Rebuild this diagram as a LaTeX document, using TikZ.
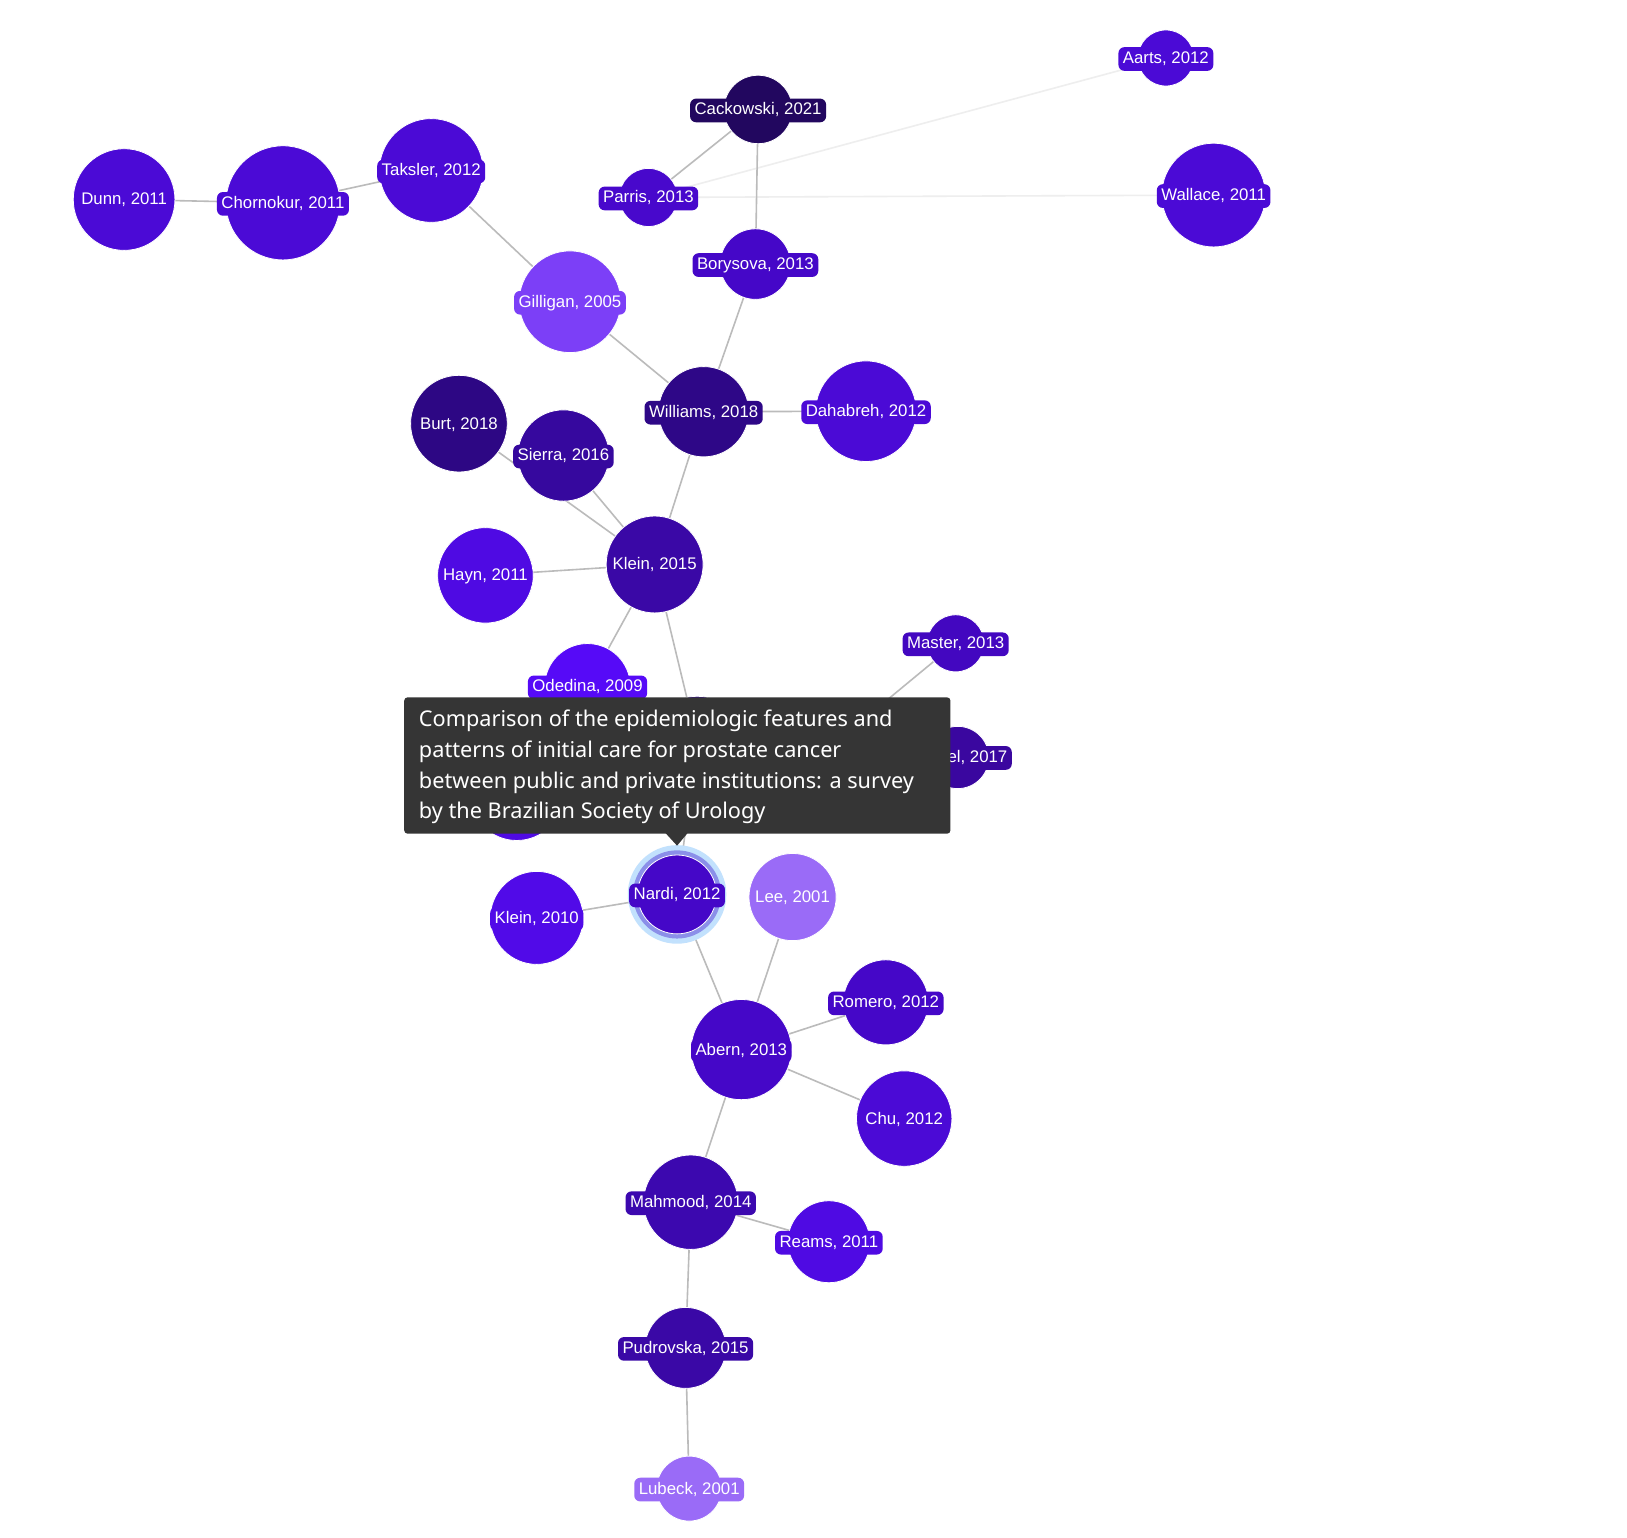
\documentclass[tikz,border=0pt]{standalone}
\usepackage{fontspec}
\setmainfont{Liberation Sans}
\newfontfamily\tipfont{Noto Sans}
\usetikzlibrary{backgrounds}
\pgfdeclarelayer{fg}
\pgfdeclarelayer{top}
\pgfsetlayers{background,main,fg,top}
\definecolor{cStd}{HTML}{4B0AD6}
\definecolor{cMid}{HTML}{4507C8}
\definecolor{cParris}{HTML}{4808CC}
\definecolor{cCack}{HTML}{22075F}
\definecolor{cGill}{HTML}{7C3FF7}
\definecolor{cWill}{HTML}{2E0787}
\definecolor{cBurt}{HTML}{2D0784}
\definecolor{cSierra}{HTML}{36089E}
\definecolor{cKlein}{HTML}{3A08A6}
\definecolor{cHayn}{HTML}{4F0AE3}
\definecolor{cOded}{HTML}{560AF7}
\definecolor{cMaster}{HTML}{4307C0}
\definecolor{cEl}{HTML}{3A079F}
\definecolor{cKleinB}{HTML}{510AE8}
\definecolor{cLee}{HTML}{9A6BF7}
\definecolor{cMahm}{HTML}{3C08AF}
\definecolor{ringOut}{HTML}{C2E1FD}
\definecolor{ringMid}{HTML}{8B8FE9}
\definecolor{edgegray}{HTML}{BBBBBB}
\definecolor{faintgray}{HTML}{EEEEEE}
\definecolor{tipbg}{HTML}{353535}
\tikzset{
  pcirc/.style={circle, draw=white, line width=0.8pt, inner sep=0pt, outer sep=0pt},
  plabel/.style={rounded corners=6pt, inner xsep=4.5pt, inner ysep=4pt, text=white, yshift=-1pt,
    font=\fontsize{16.8}{18}\selectfont, text height=12.3pt, text depth=3.4pt},
  edgeline/.style={draw=edgegray, line width=1.6pt},
  faintline/.style={draw=faintgray, line width=1.6pt},
  tiptext/.style={anchor=base west, inner sep=0pt, text=white, font=\tipfont\fontsize{21.7}{30}\selectfont}
}
\newcommand\pnode[6]{%
  \node[pcirc, fill=#5, minimum size={2.0752pt*#4}] (#1) at (#2,#3) {};
  \begin{pgfonlayer}{fg}\node[plabel, fill=#5] (#1-l) at (#1) {#6};\end{pgfonlayer}}
\begin{document}
\begin{tikzpicture}[x=1.0376pt, y=-1.0376pt]
\begin{pgfonlayer}{background}
\fill[white] (0,0) rectangle (1568,1482);
\end{pgfonlayer}
\useasboundingbox (0,0) rectangle (1568,1482);

\pnode{aarts}{1123.6}{55.9}{27}{cStd}{Aarts, 2012}
\pnode{cack}{730.6}{105.5}{33}{cCack}{Cackowski, 2021}
\pnode{parris}{624.9}{190.3}{28}{cParris}{Parris, 2013}
\pnode{wallace}{1169.6}{188}{50}{cStd}{Wallace, 2011}
\pnode{bory}{728}{254.5}{34}{cMid}{Borysova, 2013}
\pnode{dunn}{119.6}{192.3}{49}{cStd}{Dunn, 2011}
\pnode{chor}{272.7}{195.5}{55}{cStd}{Chornokur, 2011}
\pnode{taks}{415.6}{164.3}{50}{cStd}{Taksler, 2012}
\pnode{gill}{549.3}{290.8}{49}{cGill}{Gilligan, 2005}
\pnode{will}{678.1}{396.8}{43.5}{cWill}{Williams, 2018}
\pnode{daha}{834.6}{396.3}{48.5}{cStd}{Dahabreh, 2012}
\pnode{burt}{442.3}{408.3}{46.6}{cBurt}{Burt, 2018}
\pnode{sierra}{543}{439}{44}{cSierra}{Sierra, 2016}
\pnode{kleinA}{630.9}{544}{46.7}{cKlein}{Klein, 2015}
\pnode{hayn}{467.8}{554.5}{46}{cHayn}{Hayn, 2011}
\pnode{oded}{566.2}{661.5}{41.3}{cOded}{Odedina, 2009}
\pnode{master}{921}{620}{27.5}{cMaster}{Master, 2013}

\node[pcirc, fill=cKlein, minimum size={2.0752pt*43}] (hidA) at (672,714) {};
\node[pcirc, fill=cHayn, minimum size={2.0752pt*45}] (hidB) at (498,765) {};
\node[pcirc, fill=cEl, minimum size={2.0752pt*30}] (elnode) at (923,730) {};
\begin{pgfonlayer}{fg}
\node[plabel, fill=cEl, anchor=east] (el-l) at (975.3,729.5) {el, 2017};
\end{pgfonlayer}
\coordinate (m2) at (800,720);

\fill[ringOut] (652.5,862) circle (47.5);
\fill[ringMid] (652.5,862) circle (42.5);
\pnode{nardi}{652.5}{862}{38}{cMid}{Nardi, 2012}
\pnode{kleinB}{517.3}{884.6}{44.8}{cKleinB}{Klein, 2010}
\pnode{lee}{763.8}{864.5}{42}{cLee}{Lee, 2001}
\pnode{abern}{714.4}{1011.5}{48.3}{cMid}{Abern, 2013}
\pnode{romero}{853.7}{966}{41}{cMid}{Romero, 2012}
\pnode{chu}{871.4}{1078}{46}{cStd}{Chu, 2012}
\pnode{mahm}{665.7}{1158.6}{45.5}{cMahm}{Mahmood, 2014}
\pnode{reams}{798.8}{1196.7}{39.5}{cHayn}{Reams, 2011}
\pnode{pudr}{660.7}{1299}{39}{cKlein}{Pudrovska, 2015}
\pnode{lub}{664.2}{1434.6}{31.3}{cLee}{Lubeck, 2001}

\begin{pgfonlayer}{background}
\draw[faintline] (parris) -- (aarts);
\draw[faintline] (parris) -- (wallace);
\draw[edgeline] (dunn) -- (chor);
\draw[edgeline] (chor) -- (taks);
\draw[edgeline] (taks) -- (gill);
\draw[edgeline] (gill) -- (will);
\draw[edgeline] (bory) -- (will);
\draw[edgeline] (cack) -- (bory);
\draw[edgeline] (cack) -- (parris);
\draw[edgeline] (will) -- (daha);
\draw[edgeline] (will) -- (kleinA);
\draw[edgeline] (burt) -- (kleinA);
\draw[edgeline] (sierra) -- (kleinA);
\draw[edgeline] (hayn) -- (kleinA);
\draw[edgeline] (kleinA) -- (oded);
\draw[edgeline] (kleinA) -- (hidA);
\draw[edgeline] (master) -- (m2);
\draw[edgeline] (nardi) -- (kleinB);
\draw[edgeline] (nardi) -- (hidA);
\draw[edgeline] (nardi) -- (abern);
\draw[edgeline] (lee) -- (abern);
\draw[edgeline] (abern) -- (romero);
\draw[edgeline] (abern) -- (chu);
\draw[edgeline] (abern) -- (mahm);
\draw[edgeline] (mahm) -- (reams);
\draw[edgeline] (mahm) -- (pudr);
\draw[edgeline] (pudr) -- (lub);
\end{pgfonlayer}

\begin{pgfonlayer}{top}
\fill[tipbg, rounded corners=3.5pt] (389.5,672) rectangle (916,803.5);
\fill[tipbg] (641.5,803) -- (662.5,803) -- (652.5,815) -- cycle;
\node[tiptext] (t1) at (403.6,700.6) {Comparison of the epidemiologic features and};
\node[tiptext] (t2) at (403.6,730.0) {patterns of initial care for prostate cancer};
\node[tiptext] (t3) at (403.6,759.5) {between public and private institutions: a survey};
\node[tiptext] (t4) at (403.6,789.0) {by the Brazilian Society of Urology};
\end{pgfonlayer}
\end{tikzpicture}
\end{document}
